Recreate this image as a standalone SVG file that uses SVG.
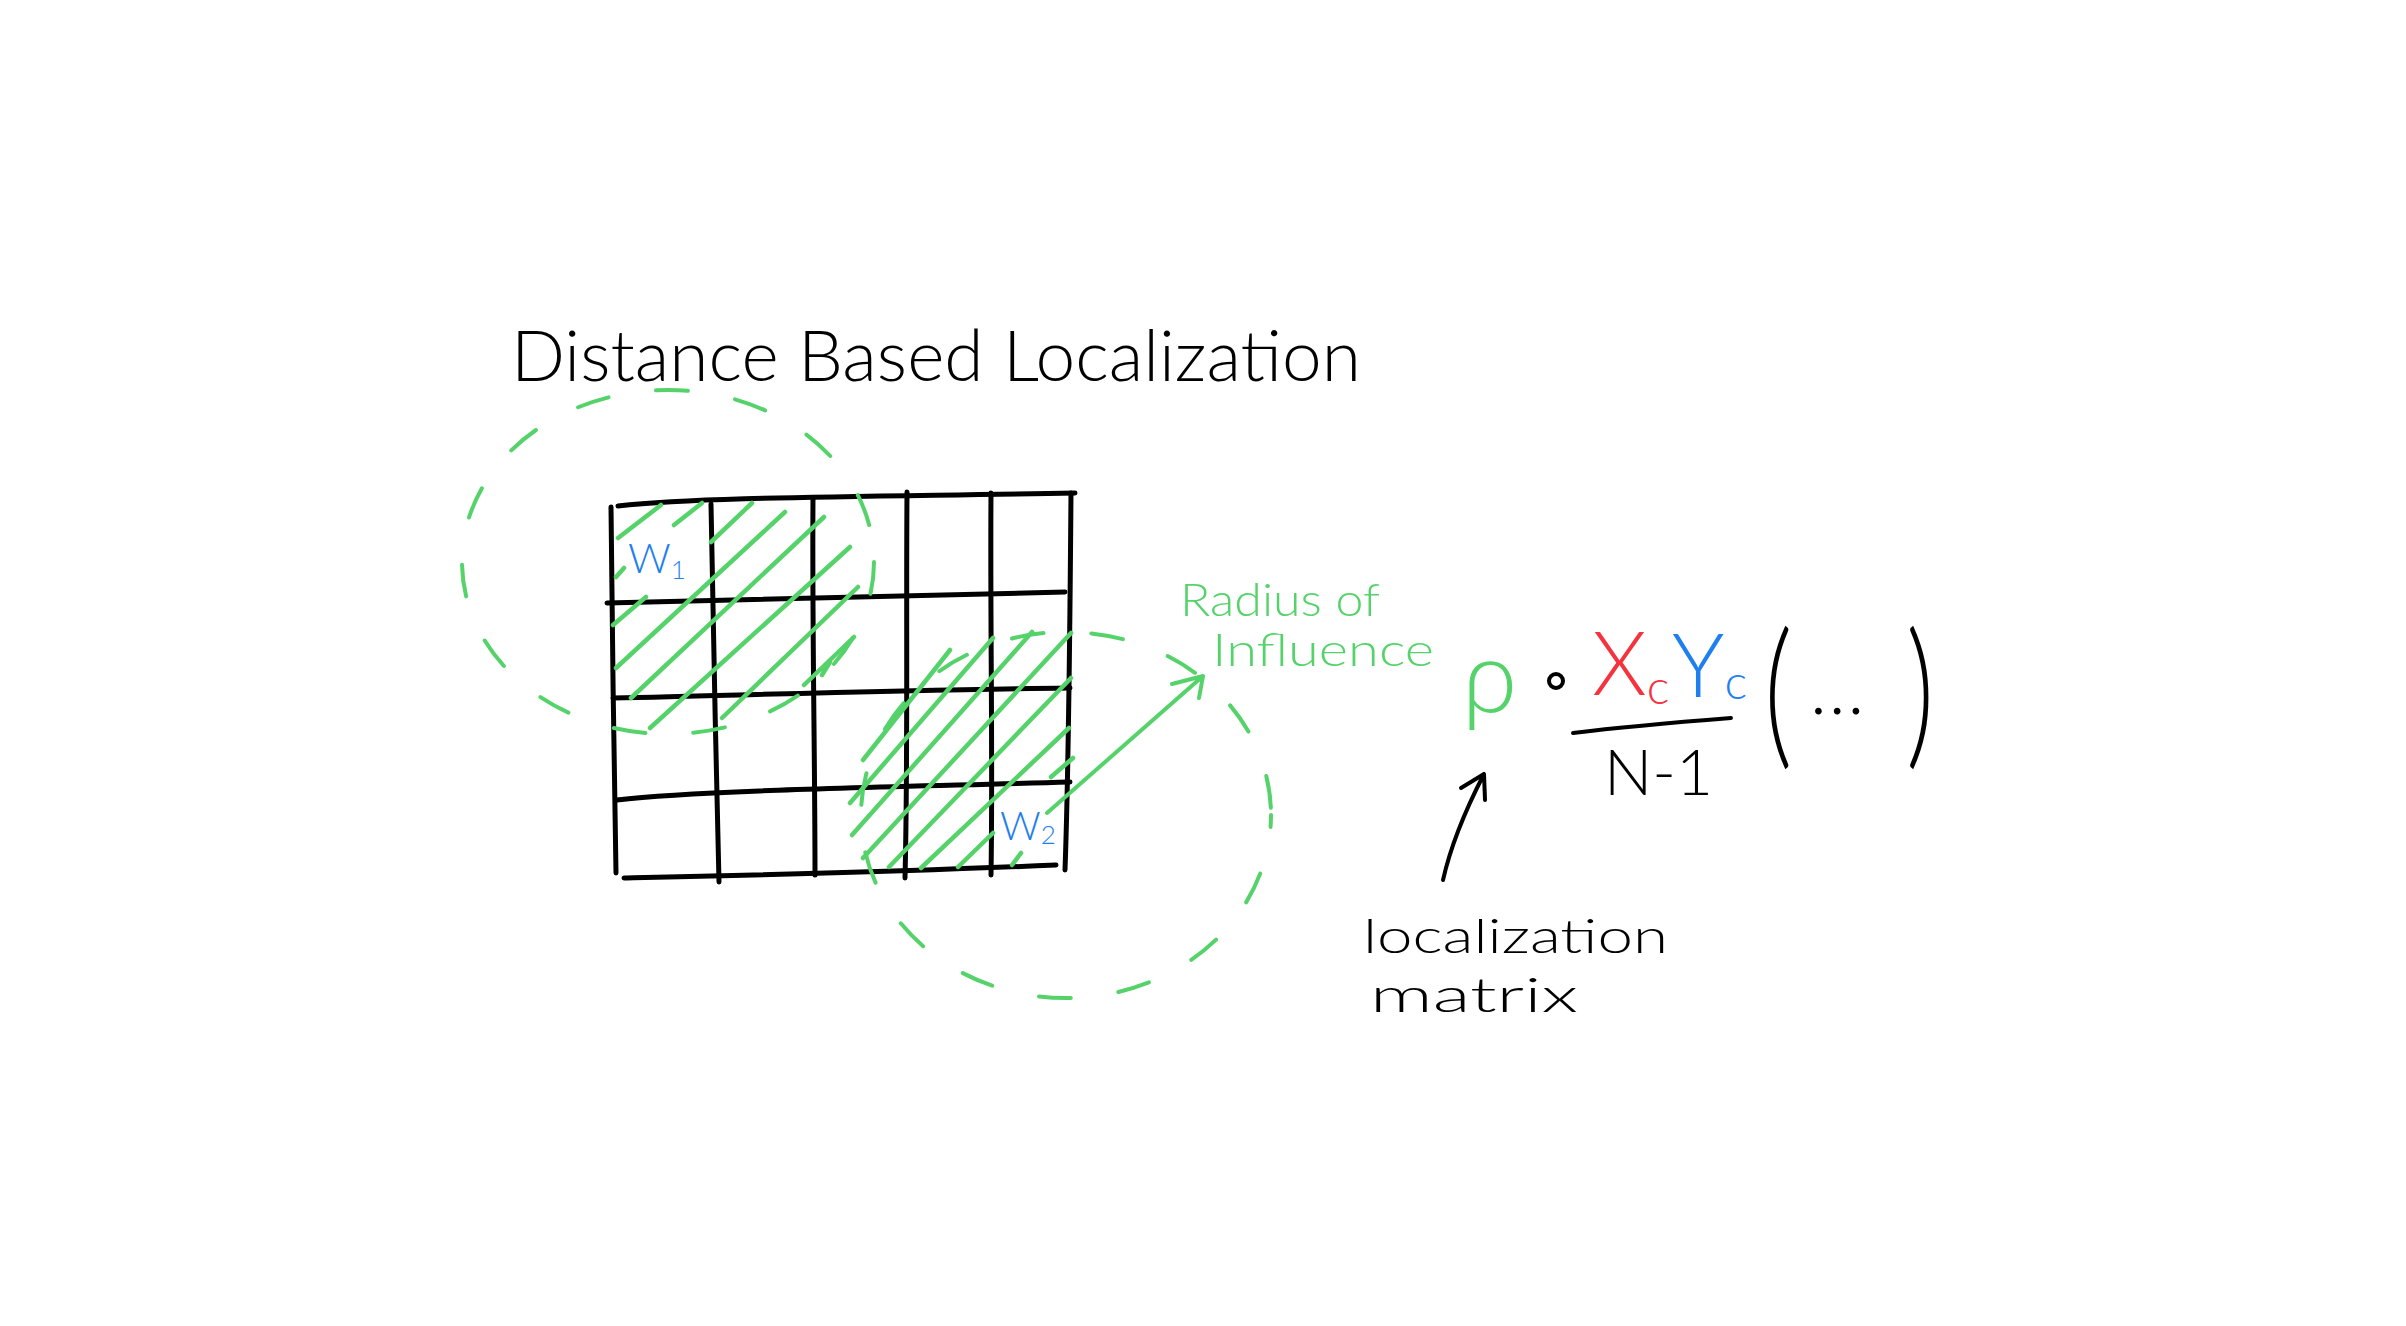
<svg xmlns="http://www.w3.org/2000/svg" width="2406" height="1326" viewBox="0 0 2406 1326">
<style>
.grid{fill:none;stroke:#000;stroke-width:5;stroke-linecap:round}
.hatch{fill:none;stroke:#55d36a;stroke-width:4.5;stroke-linecap:round}
.dash{fill:none;stroke:#55d36a;stroke-width:4;stroke-linecap:round;stroke-dasharray:32 48}
.ink{fill:none;stroke:#000;stroke-width:4;stroke-linecap:round;stroke-linejoin:round}
.gink{fill:none;stroke:#55d36a;stroke-width:4;stroke-linecap:round;stroke-linejoin:round}
.t{font-family:Lato,"Liberation Sans",Arial,sans-serif;font-weight:300}
</style>
<rect width="2406" height="1326" fill="#fff"/>
<g id="title"><text class="t" x="511" y="381" font-size="70" textLength="850" lengthAdjust="spacingAndGlyphs" fill="#000">Distance Based Localization</text></g>
<g id="grid">
<path class="grid" d="M618,506 C700,497 850,497 1075,493"/>
<path class="grid" d="M607,603 C750,600 900,595 1065,592"/>
<path class="grid" d="M613,698 C750,695 900,690 1070,688"/>
<path class="grid" d="M617,800 C700,790 900,787 1070,782"/>
<path class="grid" d="M624,878 C760,875 900,872 1056,865"/>
<path class="grid" d="M611,507 C612,620 614,760 616,873"/>
<path class="grid" d="M711,504 C713,620 716,760 719,882"/>
<path class="grid" d="M813,498 C812,620 815,760 815,875"/>
<path class="grid" d="M907,492 C906,620 908,760 905,878"/>
<path class="grid" d="M991,493 C990,620 993,760 991,875"/>
<path class="grid" d="M1071,493 C1070,620 1069,760 1065,870"/>
</g>
<g id="hatch1">
<path class="hatch" d="M618,538 L661,505 M674,525 L702,503 M711,542 L752,503 M616,577 L624,568 M613,625 L646,597 M616,668 L785,512 M631,698 L824,517 M650,728 L850,547 M722,718 L858,587 M804,685 L854,637 M822,675 L830,662"/>
</g>
<g id="hatch2">
<path class="hatch" d="M863,760 L950,650 M850,803 L993,638 M852,835 L1032,632 M863,858 L1071,633 M889,867 L1071,678 M921,868 L1069,728 M958,867 L993,833 M1012,865 L1021,853 M1051,777 L1073,758"/>
</g>
<g id="circle1"><ellipse class="dash" cx="668" cy="562" rx="206" ry="172"/></g>
<g id="circle2"><ellipse class="dash" cx="1066" cy="815" rx="205" ry="183" stroke-dashoffset="20"/></g>
<g id="w1"><text class="t" x="628" y="573" font-size="42" fill="#1f7ff0" font-weight="400">W<tspan font-size="26" dy="6">1</tspan></text></g>
<g id="w2"><text class="t" x="1000" y="840" font-size="40" fill="#1f7ff0" font-weight="400">W<tspan font-size="26" dy="4">2</tspan></text></g>
<g id="radius-label">
<text class="t" x="1180" y="616" font-size="46" textLength="200" lengthAdjust="spacingAndGlyphs" fill="#55d36a" font-weight="400">Radius of</text>
<text class="t" x="1212" y="666" font-size="46" textLength="222" lengthAdjust="spacingAndGlyphs" fill="#55d36a" font-weight="400">Influence</text>
</g>
<g id="formula">
<text class="t" x="1462" y="712" font-size="100" fill="#55d36a">ρ</text>
<circle cx="1556" cy="681" r="7" fill="none" stroke="#000" stroke-width="4"/>
<text class="t" x="1592" y="695" font-size="88" fill="#f5333f">X<tspan font-size="48" dy="9">c</tspan></text>
<text class="t" x="1672" y="697" font-size="88" fill="#1f7ff0">Y<tspan font-size="48" dy="2">c</tspan></text>
<path class="ink" d="M1573,733 C1630,726 1680,722 1731,718" stroke-width="6"/>
<text class="t" x="1604" y="795" font-size="64" fill="#000">N-1</text>
<text class="t" transform="translate(1764,748) scale(1.2,1.75)" x="0" y="0" font-size="92" fill="#000" font-weight="400">(</text>
<text class="t" x="1810" y="714" font-size="72" fill="#000" font-weight="700" letter-spacing="2">...</text>
<text class="t" transform="translate(1906,748) scale(1.2,1.75)" x="0" y="0" font-size="92" fill="#000" font-weight="400">)</text>
</g>
<g id="loc-label">
<text class="t" x="1363" y="953" font-size="48" textLength="305" lengthAdjust="spacingAndGlyphs" fill="#000">localization</text>
<text class="t" x="1370" y="1012" font-size="48" textLength="208" lengthAdjust="spacingAndGlyphs" fill="#000">matrix</text>
</g>
<g id="connectors">
<path class="gink" d="M1047,813 L1203,676 M1172,684 L1203,676 L1199,698"/>
<path class="ink" d="M1443,880 C1452,840 1468,805 1484,774 M1461,788 L1484,774 L1485,800"/>
</g>
</svg>
